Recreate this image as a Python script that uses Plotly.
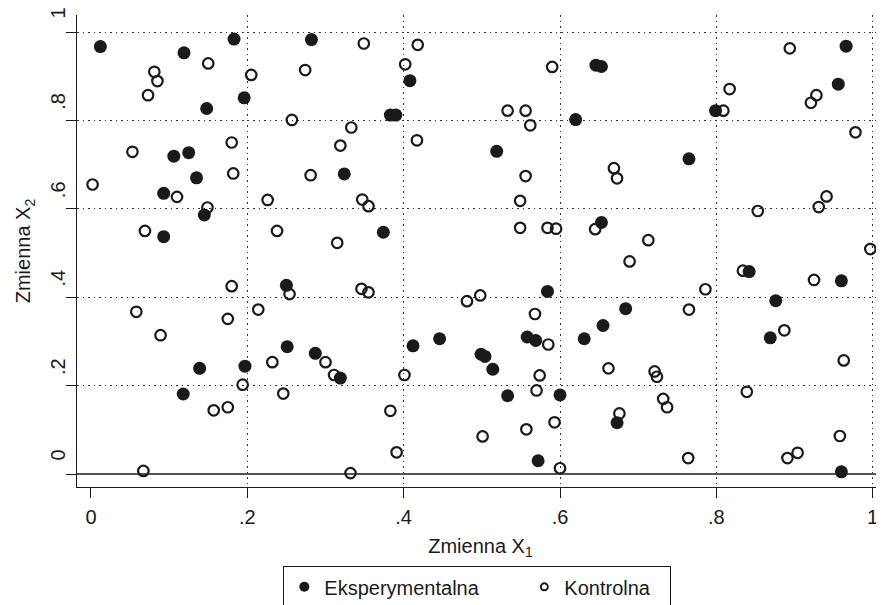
import plotly.graph_objects as go

# Eksperymentalna (filled circles)
exp_x = [0.012, 0.119, 0.183, 0.282, 0.196, 0.148, 0.125, 0.106, 0.135, 0.324,
         0.093, 0.145, 0.093, 0.408, 0.383, 0.390, 0.646, 0.653, 0.620, 0.519,
         0.374, 0.653, 0.966, 0.956, 0.799, 0.765, 0.250, 0.251, 0.287, 0.319,
         0.139, 0.197, 0.118, 0.584, 0.412, 0.446, 0.499, 0.504, 0.514, 0.558,
         0.569, 0.533, 0.600, 0.572, 0.631, 0.655, 0.842, 0.960, 0.876, 0.869,
         0.684, 0.673, 0.960]
exp_y = [0.967, 0.953, 0.984, 0.983, 0.851, 0.827, 0.727, 0.719, 0.670, 0.679,
         0.635, 0.586, 0.537, 0.890, 0.812, 0.812, 0.925, 0.922, 0.802, 0.730,
         0.547, 0.569, 0.968, 0.882, 0.822, 0.713, 0.427, 0.288, 0.273, 0.217,
         0.239, 0.244, 0.181, 0.413, 0.290, 0.306, 0.271, 0.266, 0.237, 0.310,
         0.302, 0.177, 0.179, 0.030, 0.306, 0.336, 0.458, 0.437, 0.392, 0.308,
         0.374, 0.116, 0.005]

# Kontrolna (hollow circles)
ctl_x = [0.150, 0.081, 0.085, 0.073, 0.205, 0.274, 0.257, 0.333, 0.180, 0.053,
         0.319, 0.002, 0.182, 0.281, 0.110, 0.149, 0.226, 0.069, 0.238, 0.315,
         0.349, 0.418, 0.402, 0.590, 0.533, 0.556, 0.562, 0.417, 0.556, 0.669,
         0.673, 0.347, 0.355, 0.549, 0.549, 0.584, 0.595, 0.645,
         0.894, 0.817, 0.809, 0.928, 0.921, 0.978, 0.941, 0.931, 0.853, 0.713,
         0.997,
         0.180, 0.254, 0.058, 0.175, 0.214, 0.089, 0.232, 0.300, 0.311, 0.194,
         0.246, 0.175, 0.157, 0.067, 0.332,
         0.346, 0.355, 0.481, 0.498, 0.568, 0.585, 0.574, 0.570, 0.593, 0.557,
         0.501, 0.383, 0.391, 0.401, 0.600, 0.662,
         0.689, 0.834, 0.925, 0.786, 0.765, 0.887, 0.963, 0.721, 0.724, 0.839,
         0.732, 0.737, 0.676, 0.958, 0.904, 0.891, 0.764]
ctl_y = [0.929, 0.910, 0.889, 0.857, 0.903, 0.914, 0.801, 0.784, 0.750, 0.729,
         0.743, 0.655, 0.680, 0.676, 0.627, 0.603, 0.620, 0.550, 0.550, 0.523,
         0.974, 0.971, 0.927, 0.921, 0.822, 0.822, 0.789, 0.755, 0.674, 0.692,
         0.669, 0.621, 0.606, 0.618, 0.557, 0.557, 0.555, 0.554,
         0.963, 0.871, 0.822, 0.857, 0.840, 0.773, 0.628, 0.604, 0.595, 0.529,
         0.509,
         0.425, 0.407, 0.367, 0.351, 0.372, 0.314, 0.253, 0.253, 0.224, 0.202,
         0.182, 0.151, 0.144, 0.007, 0.002,
         0.419, 0.411, 0.391, 0.404, 0.362, 0.293, 0.223, 0.189, 0.117, 0.101,
         0.085, 0.143, 0.049, 0.224, 0.013, 0.239,
         0.481, 0.460, 0.439, 0.418, 0.372, 0.325, 0.257, 0.232, 0.220, 0.186,
         0.170, 0.151, 0.137, 0.086, 0.048, 0.036, 0.036]

tick_vals = [0, 0.2, 0.4, 0.6, 0.8, 1]
tick_text = ["0", ".2", ".4", ".6", ".8", "1"]
series_names = ["Eksperymentalna", "Kontrolna"]

INK = "#1a1a1a"
FONT = "Liberation Sans, Arial, sans-serif"

fig = go.Figure()
fig.add_trace(go.Scatter(
    x=exp_x, y=exp_y, mode="markers", showlegend=False, name=series_names[0],
    marker=dict(symbol="circle", size=13, color=INK, line=dict(width=0)),
))
fig.add_trace(go.Scatter(
    x=ctl_x, y=ctl_y, mode="markers", showlegend=False, name=series_names[1],
    marker=dict(symbol="circle-open", size=10.5, color=INK, line=dict(width=2.2)),
))
# legend entries (smaller symbols as in the reference legend)
fig.add_trace(go.Scatter(
    x=[None], y=[None], mode="markers", name=series_names[0], legendwidth=195,
    marker=dict(symbol="circle", size=10, color=INK),
))
fig.add_trace(go.Scatter(
    x=[None], y=[None], mode="markers", name=series_names[1], legendwidth=100,
    marker=dict(symbol="circle-open", size=7, color=INK, line=dict(width=2)),
))

grid = dict(showgrid=True, gridcolor="#333333", gridwidth=1.2, griddash="1.5px,4px")

# page body has an 8px default margin, so the figure is drawn 8px smaller and offset
fig.update_layout(
    width=876, height=597,
    margin=dict(l=69, r=0, t=7, b=118, autoexpand=False),
    paper_bgcolor="white", plot_bgcolor="white",
    font=dict(family=FONT, size=20, color=INK),
    xaxis=dict(
        range=[-0.0179, 1.0145], tickmode="array", tickvals=tick_vals, ticktext=tick_text,
        ticks="outside", ticklen=10, tickwidth=1.3, tickcolor=INK,
        showline=True, linecolor=INK, linewidth=1.3,
        zeroline=True, zerolinecolor="rgba(0,0,0,0)", zerolinewidth=1,
        ticklabelstandoff=2, ticklabeloverflow="allow",
        title=dict(text="Zmienna X<sub>1</sub>", font=dict(size=20), standoff=11),
        automargin=False, **grid,
    ),
    yaxis=dict(
        range=[-0.0294, 1.0385], tickmode="array", tickvals=tick_vals, ticktext=tick_text,
        ticks="outside", ticklen=10, tickwidth=1.3, tickcolor=INK, tickangle=-90,
        showline=True, linecolor=INK, linewidth=1.3,
        zeroline=True, zerolinecolor="#555555", zerolinewidth=1.6,
        ticklabelshift=-16, ticklabelstandoff=-7, ticklabeloverflow="allow",
        title=dict(text="Zmienna X<sub>2</sub>", font=dict(size=20), standoff=10),
        automargin=False, **grid,
    ),
    legend=dict(
        orientation="h", x=0.2553, xanchor="left", y=-0.1674, yanchor="top",
        bordercolor=INK, borderwidth=1.3, bgcolor="white",
        font=dict(size=20), itemwidth=30,
    ),
)

fig.write_html("out.html")
